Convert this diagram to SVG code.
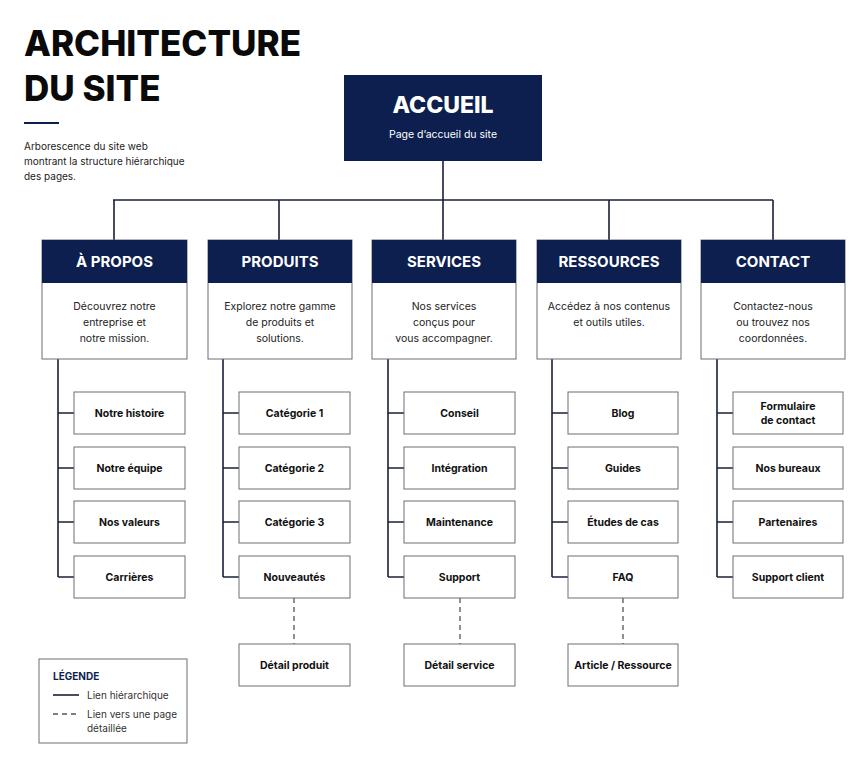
<svg xmlns="http://www.w3.org/2000/svg" width="865" height="768" viewBox="0 0 865 768">
<style>
text{font-family:Inter,"Noto Sans",sans-serif;text-anchor:middle}
.hd{fill:#0c1f4f}
.box{fill:#fff;stroke:#6b6e75;stroke-width:1}
.ht{fill:#fff;font-size:15px;font-weight:700}
.d{fill:#222;font-size:10.5px}
.c{fill:#111;font-size:10.5px;font-weight:700}
.ln{stroke:#1a2038;stroke-width:1.6;fill:none}
.ds{stroke:#555;stroke-width:1.3;stroke-dasharray:5 4;fill:none}
</style>
<rect width="865" height="768" fill="#fff"/>
<g id="title">
<text x="24" y="56" style="text-anchor:start;font-size:35px;font-weight:800;fill:#0a0a0a">ARCHITECTURE</text>
<text x="24" y="101" style="text-anchor:start;font-size:35px;font-weight:800;fill:#0a0a0a">DU SITE</text>
<rect x="24" y="122" width="35" height="2" fill="#0c1f4f"/>
<text x="24" y="150" style="text-anchor:start;font-size:10px;fill:#222">Arborescence du site web</text>
<text x="24" y="165" style="text-anchor:start;font-size:10px;fill:#222">montrant la structure hiérarchique</text>
<text x="24" y="180" style="text-anchor:start;font-size:10px;fill:#222">des pages.</text>
</g>
<g id="connectors">
<path class="ln" d="M443 161V200M113 200H773M114 200V240M279 200V240M443 200V240M609 200V240M773 200V240"/>
<path class="ln" d="M58 359V577M58 413H74M58 468H74M58 522H74M58 577H74"/>
<path class="ln" d="M223 359V577M223 413H239M223 468H239M223 522H239M223 577H239"/>
<path class="ln" d="M388 359V577M388 413H404M388 468H404M388 522H404M388 577H404"/>
<path class="ln" d="M552 359V577M552 413H568M552 468H568M552 522H568M552 577H568"/>
<path class="ln" d="M717 359V577M717 413H733M717 468H733M717 522H733M717 577H733"/>
<path class="ds" d="M294 598V644M460 598V644M623 598V644"/>
</g>
<g id="accueil">
<rect x="344" y="75" width="198" height="86" class="hd"/>
<text x="443" y="113" style="fill:#fff;font-size:23px;font-weight:800">ACCUEIL</text>
<text x="443" y="138" style="fill:#fff;font-size:10.5px">Page d’accueil du site</text>
</g>
<g id="apropos">
<rect x="42" y="240" width="145" height="119" class="box"/><rect x="42" y="240" width="145" height="43" class="hd"/>
<text x="114.5" y="267" class="ht">À PROPOS</text>
<text x="114.5" y="310" class="d">Découvrez notre</text><text x="114.5" y="326" class="d">entreprise et</text><text x="114.5" y="342" class="d">notre mission.</text>
</g>
<g id="produits">
<rect x="208" y="240" width="144" height="119" class="box"/><rect x="208" y="240" width="144" height="43" class="hd"/>
<text x="280" y="267" class="ht">PRODUITS</text>
<text x="280" y="310" class="d">Explorez notre gamme</text><text x="280" y="326" class="d">de produits et</text><text x="280" y="342" class="d">solutions.</text>
</g>
<g id="services">
<rect x="372" y="240" width="144" height="119" class="box"/><rect x="372" y="240" width="144" height="43" class="hd"/>
<text x="444" y="267" class="ht">SERVICES</text>
<text x="444" y="310" class="d">Nos services</text><text x="444" y="326" class="d">conçus pour</text><text x="444" y="342" class="d">vous accompagner.</text>
</g>
<g id="ressources">
<rect x="537" y="240" width="144" height="119" class="box"/><rect x="537" y="240" width="144" height="43" class="hd"/>
<text x="609" y="267" class="ht">RESSOURCES</text>
<text x="609" y="310" class="d">Accédez à nos contenus</text><text x="609" y="326" class="d">et outils utiles.</text>
</g>
<g id="contact">
<rect x="701" y="240" width="144" height="119" class="box"/><rect x="701" y="240" width="144" height="43" class="hd"/>
<text x="773" y="267" class="ht">CONTACT</text>
<text x="773" y="310" class="d">Contactez-nous</text><text x="773" y="326" class="d">ou trouvez nos</text><text x="773" y="342" class="d">coordonnées.</text>
</g>
<g id="c1a"><rect x="74" y="392" width="111" height="42" class="box"/><text x="129.5" y="417" class="c">Notre histoire</text></g>
<g id="c1b"><rect x="74" y="447" width="111" height="42" class="box"/><text x="129.5" y="472" class="c">Notre équipe</text></g>
<g id="c1c"><rect x="74" y="501" width="111" height="42" class="box"/><text x="129.5" y="526" class="c">Nos valeurs</text></g>
<g id="c1d"><rect x="74" y="556" width="111" height="42" class="box"/><text x="129.5" y="581" class="c">Carrières</text></g>
<g id="c2a"><rect x="239" y="392" width="111" height="42" class="box"/><text x="294.5" y="417" class="c">Catégorie 1</text></g>
<g id="c2b"><rect x="239" y="447" width="111" height="42" class="box"/><text x="294.5" y="472" class="c">Catégorie 2</text></g>
<g id="c2c"><rect x="239" y="501" width="111" height="42" class="box"/><text x="294.5" y="526" class="c">Catégorie 3</text></g>
<g id="c2d"><rect x="239" y="556" width="111" height="42" class="box"/><text x="294.5" y="581" class="c">Nouveautés</text></g>
<g id="c2e"><rect x="239" y="644" width="111" height="42" class="box"/><text x="294.5" y="669" class="c">Détail produit</text></g>
<g id="c3a"><rect x="404" y="392" width="111" height="42" class="box"/><text x="459.5" y="417" class="c">Conseil</text></g>
<g id="c3b"><rect x="404" y="447" width="111" height="42" class="box"/><text x="459.5" y="472" class="c">Intégration</text></g>
<g id="c3c"><rect x="404" y="501" width="111" height="42" class="box"/><text x="459.5" y="526" class="c">Maintenance</text></g>
<g id="c3d"><rect x="404" y="556" width="111" height="42" class="box"/><text x="459.5" y="581" class="c">Support</text></g>
<g id="c3e"><rect x="404" y="644" width="111" height="42" class="box"/><text x="459.5" y="669" class="c">Détail service</text></g>
<g id="c4a"><rect x="568" y="392" width="110" height="42" class="box"/><text x="623" y="417" class="c">Blog</text></g>
<g id="c4b"><rect x="568" y="447" width="110" height="42" class="box"/><text x="623" y="472" class="c">Guides</text></g>
<g id="c4c"><rect x="568" y="501" width="110" height="42" class="box"/><text x="623" y="526" class="c">Études de cas</text></g>
<g id="c4d"><rect x="568" y="556" width="110" height="42" class="box"/><text x="623" y="581" class="c">FAQ</text></g>
<g id="c4e"><rect x="568" y="644" width="110" height="42" class="box"/><text x="623" y="669" class="c">Article / Ressource</text></g>
<g id="c5a"><rect x="733" y="392" width="110" height="42" class="box"/><text x="788" y="410" class="c">Formulaire</text><text x="788" y="424" class="c">de contact</text></g>
<g id="c5b"><rect x="733" y="447" width="110" height="42" class="box"/><text x="788" y="472" class="c">Nos bureaux</text></g>
<g id="c5c"><rect x="733" y="501" width="110" height="42" class="box"/><text x="788" y="526" class="c">Partenaires</text></g>
<g id="c5d"><rect x="733" y="556" width="110" height="42" class="box"/><text x="788" y="581" class="c">Support client</text></g>
<g id="legend">
<rect x="39" y="659" width="148" height="84" class="box"/>
<text x="53" y="680" style="text-anchor:start;font-size:10px;font-weight:700;fill:#0c1f4f">LÉGENDE</text>
<line x1="53" y1="695" x2="79" y2="695" class="ln"/>
<text x="87" y="699" style="text-anchor:start;font-size:10px;fill:#333">Lien hiérarchique</text>
<line x1="53" y1="714" x2="79" y2="714" class="ds"/>
<text x="87" y="718" style="text-anchor:start;font-size:10px;fill:#333">Lien vers une page</text>
<text x="87" y="732" style="text-anchor:start;font-size:10px;fill:#333">détaillée</text>
</g>
</svg>
